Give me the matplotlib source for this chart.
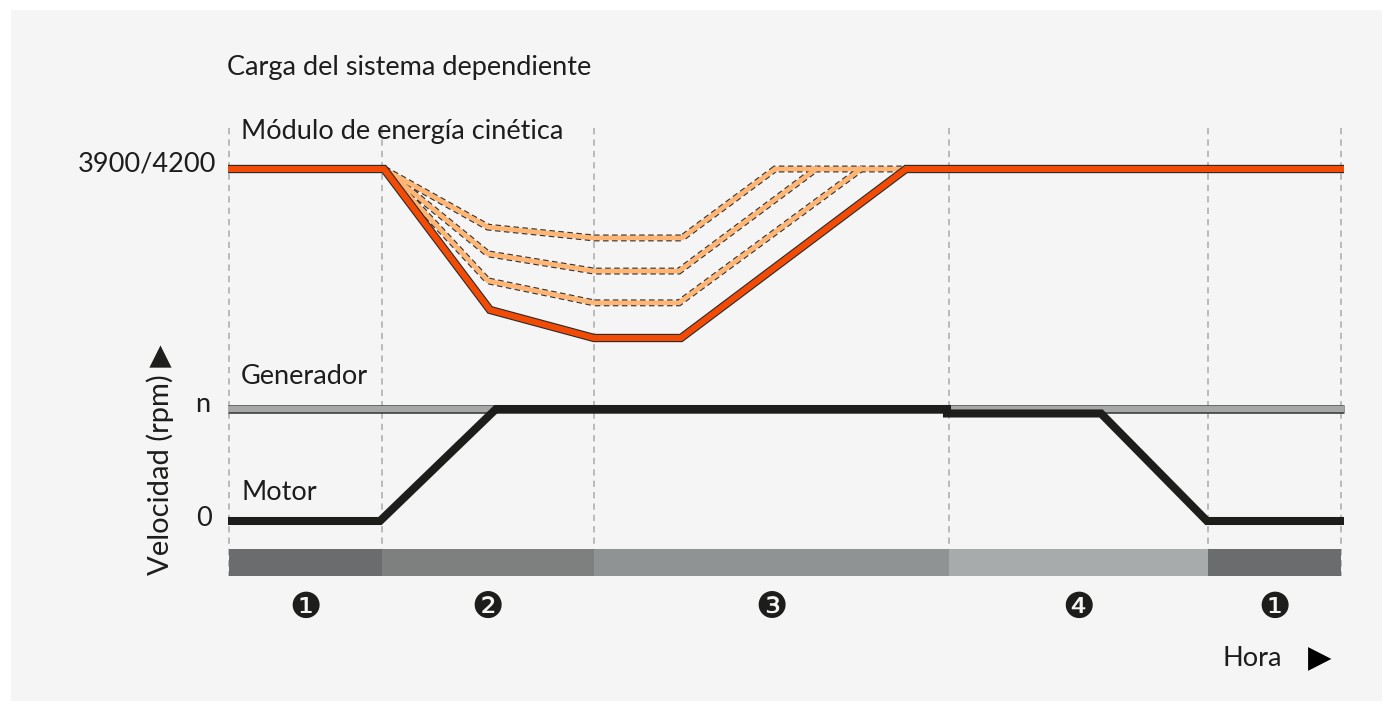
import matplotlib
matplotlib.use("Agg")
import matplotlib.pyplot as plt
import matplotlib.patheffects as pe
from matplotlib.patches import Rectangle

# ---------------- data ----------------
# time axis (arbitrary time units, left edge of the cycle = 228)
phase_bounds = [229, 382, 594, 949, 1208, 1341]
phase_labels = ["❶", "❷", "❸", "❹", "❶"]
phase_colors = ["#6b6c6e", "#7e8080", "#909393", "#a8abab", "#6b6c6e"]

# kinetic energy module speed, % of nominal (3900/4200 rpm = 100 %)
t_main = [228, 384, 490, 594, 681, 906, 1344]
e_main = [100, 100, 58.3, 50.0, 50.0, 100, 100]

t_alt1 = [384, 488, 594, 682, 775, 902]
e_alt1 = [100, 82.8, 79.6, 79.6, 100, 100]
t_alt2 = [384, 488, 594, 679, 816]
e_alt2 = [100, 74.9, 69.8, 69.8, 100]
t_alt3 = [384, 488, 594, 679, 861]
e_alt3 = [100, 66.9, 60.4, 60.4, 100]

# generator / motor speed (fraction of n)
t_gen = [228, 1344]
s_gen = [1.0, 1.0]
t_motor = [228, 380, 496, 947, 947, 1101, 1207, 1344]
s_motor = [0.0, 0.0, 1.0, 1.0, 0.96, 0.96, 0.0, 0.0]

energy_tick = "3900/4200"
speed_ticks = ["0", "n"]

# ---------------- layout helpers ----------------
W, H = 1392, 712
E_TOP_PX, E_PX_PER_PCT = 169, 3.38
S_ZERO_PX, S_PX_PER_UNIT = 521, 112


def e2y(v):
    return E_TOP_PX + (100 - v) * E_PX_PER_PCT


def s2y(v):
    return S_ZERO_PX - v * S_PX_PER_UNIT


FONT = ["Lato", "DejaVu Sans"]
plt.rcParams["font.family"] = FONT

fig = plt.figure(figsize=(W / 100, H / 100), dpi=100)
fig.patch.set_facecolor("white")
ax = fig.add_axes([0, 0, 1, 1])
ax.set_xlim(0, W)
ax.set_ylim(H, 0)
ax.axis("off")

# panel
ax.add_patch(Rectangle((11, 10), 1371, 691, facecolor="#f5f5f5", edgecolor="none", zorder=0))

# vertical dashed guide lines
for x in phase_bounds:
    ax.plot([x, x], [128, 576], color="#b5b5b5", lw=1.3, ls=(0, (3.5, 2.8)), zorder=1)

# phase bars
for i, c in enumerate(phase_colors):
    ax.add_patch(Rectangle((phase_bounds[i], 549), phase_bounds[i + 1] - phase_bounds[i], 27,
                           facecolor=c, edgecolor="none", zorder=2))
    xc = (phase_bounds[i] + phase_bounds[i + 1]) / 2
    ax.text(xc, 608, phase_labels[i], ha="center", va="center", fontsize=26,
            family=["DejaVu Sans"], color="#1d1d1b", zorder=3)

# light dashed alternatives
for tt, ee in [(t_alt1, e_alt1), (t_alt2, e_alt2), (t_alt3, e_alt3)]:
    ys = [e2y(v) for v in ee]
    ax.plot(tt, ys, color="#333333", lw=5.0, ls=(0, (0.8, 0.5)), solid_joinstyle="miter",
            dash_joinstyle="miter", dash_capstyle="butt", zorder=4)
    ax.plot(tt, ys, color="#ffb574", lw=3.4, solid_joinstyle="miter", zorder=5)

# main energy line
ax.plot(t_main, [e2y(v) for v in e_main], color="#f24b05", lw=4.4, solid_capstyle="butt",
        solid_joinstyle="miter", zorder=6,
        path_effects=[pe.Stroke(linewidth=6.0, foreground="#2a2a2a"), pe.Normal()])

# generator line
ax.plot(t_gen, [s2y(v) for v in s_gen], color="#a6a8a8", lw=4.6, solid_capstyle="butt", zorder=6,
        path_effects=[pe.Stroke(linewidth=6.2, foreground="#3a3a3a", capstyle="butt"), pe.Normal()])

# motor line
ax.plot(t_motor, [s2y(v) for v in s_motor], color="#1d1d1b", lw=5.8, solid_capstyle="butt",
        solid_joinstyle="miter", zorder=7)

# texts
TXT = dict(color="#1d1d1b", fontsize=19.5)
ax.text(227, 68, "Carga del sistema dependiente", ha="left", va="center", **TXT)
ax.text(241, 132, "Módulo de energía cinética", ha="left", va="center", **TXT)
ax.text(216, 164, energy_tick, ha="right", va="center", **TXT)
ax.text(241, 377, "Generador", ha="left", va="center", **TXT)
ax.text(210, s2y(1) - 4, speed_ticks[1], ha="right", va="center", **TXT)
ax.text(241, 492, "Motor", ha="left", va="center", **TXT)
ax.text(212, s2y(0) - 3, speed_ticks[0], ha="right", va="center", **TXT)
ax.text(160, 460, "Velocidad (rpm) ▶", rotation=90, ha="center", va="center",
        family=FONT, color="#1d1d1b", fontsize=21)
ax.text(1282, 659, "Hora", ha="right", va="center", **TXT)
ax.text(1320, 659, "▶", ha="center", va="center", family=["DejaVu Sans"], color="#000000", fontsize=22)

fig.savefig("out.png", dpi=100, facecolor=fig.get_facecolor())
